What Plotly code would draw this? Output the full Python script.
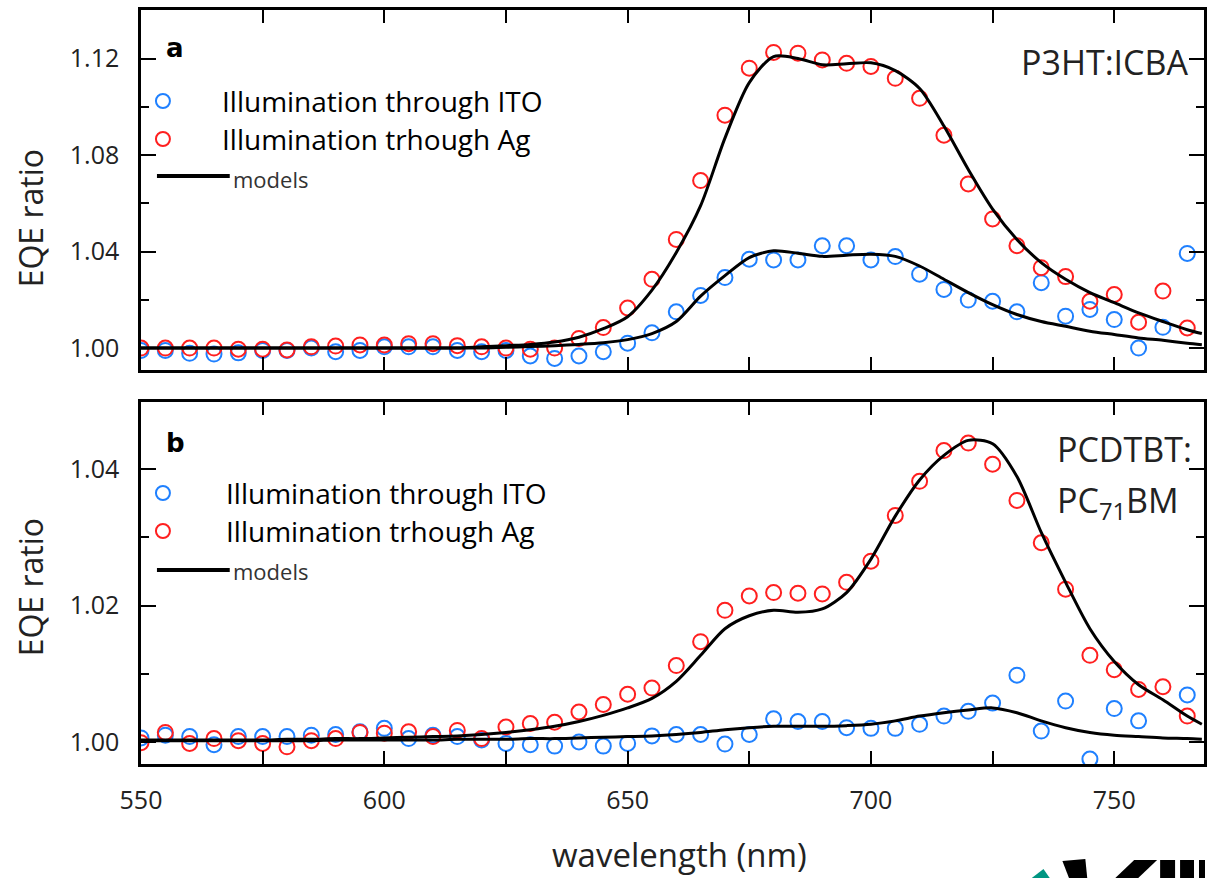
import plotly.graph_objects as go

# ---------------- data ----------------
wl = [550, 555, 560, 565, 570, 575, 580, 585, 590, 595,
      600, 605, 610, 615, 620, 625, 630, 635, 640, 645,
      650, 655, 660, 665, 670, 675, 680, 685, 690, 695,
      700, 705, 710, 715, 720, 725, 730, 735, 740, 745,
      750, 755, 760, 765]

# panel a: P3HT:ICBA
a_ito = [0.999, 0.999, 0.9978, 0.9975, 0.998, 0.999, 0.999, 1.000, 0.9985, 0.999,
         1.0005, 1.0005, 1.0005, 0.999, 0.9985, 0.999, 0.9967, 0.9957, 0.9967, 0.9985,
         1.002, 1.0063, 1.015, 1.0218, 1.0292, 1.0368, 1.0365, 1.0365, 1.0424, 1.0424,
         1.0365, 1.0379, 1.0306, 1.0243, 1.0199, 1.0194, 1.015, 1.0271, 1.0132, 1.016,
         1.0118, 1.000, 1.0086, 1.0392]
a_ag = [1.000, 1.000, 1.000, 1.000, 0.9995, 0.9995, 0.9992, 1.0005, 1.0008, 1.0013,
        1.0013, 1.0018, 1.0018, 1.001, 1.0005, 1.000, 0.9995, 1.000, 1.004, 1.0085,
        1.0166, 1.0285, 1.045, 1.0694, 1.0965, 1.116, 1.1225, 1.1222, 1.1194, 1.118,
        1.1167, 1.1118, 1.1035, 1.0882, 1.068, 1.0535, 1.0424, 1.0333, 1.0296, 1.0194,
        1.0222, 1.0107, 1.0236, 1.0083]

model_wl = wl + [768]
a_model_ag = [1.000, 1.000, 1.000, 1.000, 1.000, 1.000, 1.000, 1.000, 1.000, 1.000,
              1.000, 1.000, 1.000, 1.000, 1.0005, 1.001, 1.0015, 1.0025, 1.0045, 1.008,
              1.013, 1.024, 1.0396, 1.059, 1.087, 1.110, 1.1208, 1.1200, 1.1174, 1.1178,
              1.1182, 1.115, 1.1076, 1.092, 1.074, 1.0576, 1.045, 1.0354, 1.0285, 1.023,
              1.0188, 1.0146, 1.011, 1.0076, 1.006]
a_model_ito = [1.000, 1.000, 1.000, 1.000, 1.000, 1.000, 1.000, 1.000, 1.000, 1.000,
               1.000, 1.000, 1.000, 1.000, 1.000, 1.0003, 1.0006, 1.001, 1.0015, 1.0022,
               1.0035, 1.006, 1.011, 1.0215, 1.030, 1.0375, 1.0403, 1.0393, 1.038, 1.0385,
               1.0389, 1.038, 1.034, 1.0285, 1.023, 1.018, 1.0139, 1.011, 1.009, 1.007,
               1.0056, 1.0042, 1.0032, 1.002, 1.0014]

# panel b: PCDTBT:PC71BM
b_ito = [1.0006, 1.001, 1.0008, 0.9996, 1.0008, 1.0008, 1.0008, 1.001, 1.0011, 1.0015,
         1.002, 1.0005, 1.001, 1.0008, 1.0003, 0.9998, 0.9996, 0.9994, 1.000, 0.9994,
         0.9998, 1.0009, 1.0011, 1.0011, 0.9997, 1.0011, 1.0034, 1.003, 1.003, 1.0021,
         1.002, 1.002, 1.0026, 1.0038, 1.0045, 1.0057, 1.0098, 1.0016, 1.006, 0.9975,
         1.0049, 1.0031, None, 1.0069]
b_ag = [0.9999, 1.0014, 0.9998, 1.0005, 1.0002, 0.9998, 0.9993, 1.0002, 1.0005, 1.0014,
        1.0013, 1.0015, 1.0008, 1.0017, 1.0005, 1.0022, 1.0027, 1.0029, 1.0044, 1.0055,
        1.007, 1.0079, 1.0112, 1.0147, 1.0193, 1.0214, 1.0219, 1.0218, 1.0217, 1.0234,
        1.0265, 1.0332, 1.0382, 1.0427, 1.0438, 1.0407, 1.0354, 1.0292, 1.0224, 1.0127,
        1.0106, 1.0077, 1.0081, 1.0038]
b_model_ag = [1.0003, 1.0003, 1.0003, 1.0003, 1.0003, 1.0003, 1.0004, 1.0004, 1.0005, 1.0005,
              1.0006, 1.0007, 1.0008, 1.0009, 1.0011, 1.0014, 1.0018, 1.0023, 1.003, 1.0039,
              1.005, 1.0064, 1.0089, 1.0127, 1.0166, 1.0185, 1.0193, 1.019, 1.0195, 1.0219,
              1.0268, 1.0331, 1.0384, 1.042, 1.0442, 1.0437, 1.0389, 1.0307, 1.0234, 1.0166,
              1.0118, 1.0084, 1.0062, 1.0038, 1.0026]
b_model_ito = [1.0002, 1.0002, 1.0002, 1.0002, 1.0002, 1.0002, 1.0002, 1.0002, 1.0003, 1.0003,
               1.0003, 1.0003, 1.0003, 1.0004, 1.0004, 1.0004, 1.0005, 1.0005, 1.0006, 1.0007,
               1.0008, 1.0009, 1.0011, 1.0014, 1.0018, 1.0021, 1.0023, 1.0023, 1.0023, 1.0024,
               1.0026, 1.0031, 1.0038, 1.0043, 1.0047, 1.005, 1.0043, 1.0031, 1.0021, 1.0014,
               1.001, 1.0008, 1.0006, 1.0005, 1.0004]

x_ticks = [550, 600, 650, 700, 750]
a_yticks = [1.00, 1.04, 1.08, 1.12]
b_yticks = [1.00, 1.02, 1.04]
legend_labels = ["Illumination through ITO", "Illumination trhough Ag", "models"]
panel_labels = ["a", "b"]
material_a = "P3HT:ICBA"
material_b = ["PCDTBT:", "PC<sub>71</sub>BM"]

# ---------------- styling ----------------
BLUE = "#1f80ff"
RED = "#ff1f1f"
FONT = "Open Sans"
W, H = 1207, 878
ML, MR, MT, MB = 141, 0, 10, 114
PW = W - ML - MR
PH = H - MT - MB

fig = go.Figure()

def marker_trace(x, y, color, xa, ya):
    return go.Scatter(x=x, y=y, mode="markers", xaxis=xa, yaxis=ya,
                      marker=dict(symbol="circle-open", size=15, color=color,
                                  line=dict(width=2, color=color)),
                      showlegend=False, cliponaxis=True)

def model_trace(x, y, xa, ya):
    return go.Scatter(x=x, y=y, mode="lines", xaxis=xa, yaxis=ya,
                      line=dict(color="black", width=3, shape="spline", smoothing=0.8),
                      showlegend=False)

fig.add_trace(marker_trace(wl, a_ito, BLUE, "x", "y"))
fig.add_trace(marker_trace(wl, a_ag, RED, "x", "y"))
fig.add_trace(model_trace(model_wl, a_model_ag, "x", "y"))
fig.add_trace(model_trace(model_wl, a_model_ito, "x", "y"))
fig.add_trace(marker_trace(wl, b_ito, BLUE, "x2", "y2"))
fig.add_trace(marker_trace(wl, b_ag, RED, "x2", "y2"))
fig.add_trace(model_trace(model_wl, b_model_ag, "x2", "y2"))
fig.add_trace(model_trace(model_wl, b_model_ito, "x2", "y2"))

def dom_y(p_top, p_bot):
    return [(H - MB - p_bot) / PH, (H - MB - p_top) / PH]

top_px, top_bot = 10, 370
bot_px, bot_bot = 402, 764

axis_common = dict(showline=True, linecolor="black", linewidth=2.5, mirror="ticks",
                   ticks="inside", tickcolor="black", tickwidth=2, showgrid=False,
                   zeroline=False, tickfont=dict(family=FONT, size=25, color="#222"))

xrange = [550, 550 + PW / 4.88]
fig.update_layout(
    width=W, height=H, margin=dict(l=ML, r=MR, t=MT, b=MB),
    paper_bgcolor="white", plot_bgcolor="white", showlegend=False,
    xaxis=dict(domain=[0, 1], range=xrange, anchor="y", tickvals=x_ticks,
               showticklabels=False, ticklen=13,
               minor=dict(dtick=25, tick0=550, ticklen=13, ticks="inside", tickcolor="black", tickwidth=2),
               **axis_common),
    yaxis=dict(domain=dom_y(top_px, top_bot), range=[0.9909, 1.1401], anchor="x",
               tickvals=a_yticks, ticktext=[f"{v:.2f}" for v in a_yticks], ticklen=15,
               ticklabelstandoff=14,
               minor=dict(dtick=0.02, tick0=1.0, ticklen=8, ticks="inside", tickcolor="black", tickwidth=2),
               **axis_common),
    xaxis2=dict(domain=[0, 1], range=xrange, anchor="y2", tickvals=x_ticks,
                ticktext=[str(v) for v in x_ticks], ticklen=13, ticklabelstandoff=12,
                minor=dict(dtick=25, tick0=550, ticklen=13, ticks="inside", tickcolor="black", tickwidth=2),
                **axis_common),
    yaxis2=dict(domain=dom_y(bot_px, bot_bot), range=[0.99678, 1.04982], anchor="x2",
                tickvals=b_yticks, ticktext=[f"{v:.2f}" for v in b_yticks], ticklen=15,
                ticklabelstandoff=14,
                minor=dict(dtick=0.01, tick0=1.0, ticklen=8, ticks="inside", tickcolor="black", tickwidth=2),
                **axis_common),
)

def fx(px):
    return (px - ML) / PW

def fy_top(py):
    return (top_bot - py) / (top_bot - top_px)

def fy_bot(py):
    return (bot_bot - py) / (bot_bot - bot_px)

ann = []
shapes = []

def panel_decor(idx, xr, yr, fy, y_a, y_blue, y_red, y_line, y_models, x_text):
    ann.append(dict(xref=xr + " domain", yref=yr + " domain", x=fx(164), y=fy(y_a),
                    text="<b>" + panel_labels[idx] + "</b>", showarrow=False,
                    font=dict(family="DejaVu Sans", size=26, color="black")))
    for y_c, col, lab in [(y_blue, BLUE, legend_labels[0]), (y_red, RED, legend_labels[1])]:
        shapes.append(dict(type="circle", xref=xr + " domain", yref=yr + " domain",
                           xsizemode="pixel", ysizemode="pixel", xanchor=fx(163), yanchor=fy(y_c),
                           x0=-7, x1=7, y0=-7, y1=7, line=dict(color=col, width=2)))
        ann.append(dict(xref=xr + " domain", yref=yr + " domain", x=fx(x_text), y=fy(y_c),
                        xanchor="left", yanchor="middle", text=lab, showarrow=False,
                        font=dict(family=FONT, size=28, color="black")))
    shapes.append(dict(type="line", xref=xr + " domain", yref=yr + " domain",
                       x0=fx(157), x1=fx(230), y0=fy(y_line), y1=fy(y_line),
                       line=dict(color="black", width=4)))
    ann.append(dict(xref=xr + " domain", yref=yr + " domain", x=fx(231), y=fy(y_models),
                    xanchor="left", yanchor="middle", text=legend_labels[2], showarrow=False,
                    font=dict(family=FONT, size=22, color="#333")))

panel_decor(0, "x", "y", fy_top, 31, 101, 139, 176, 179, 220)
panel_decor(1, "x2", "y2", fy_bot, 426, 493, 531, 570, 571, 224)

ann.append(dict(xref="x domain", yref="y domain", x=fx(1193), y=fy_top(62), xanchor="right",
                yanchor="middle", text=material_a, showarrow=False,
                font=dict(family=FONT, size=34, color="#222")))
ann.append(dict(xref="x2 domain", yref="y2 domain", x=fx(1058), y=fy_bot(449), xanchor="left",
                yanchor="middle", text=material_b[0], showarrow=False,
                font=dict(family=FONT, size=34, color="#222")))
ann.append(dict(xref="x2 domain", yref="y2 domain", x=fx(1058), y=fy_bot(502), xanchor="left",
                yanchor="middle", text=material_b[1], showarrow=False,
                font=dict(family=FONT, size=34, color="#222")))

def px_paper(px, py):
    return (px - ML) / PW, (H - MB - py) / PH

# axis titles
for cy in [218, 587]:
    xp, yp = px_paper(30, cy)
    ann.append(dict(xref="paper", yref="paper", x=xp, y=yp, textangle=-90,
                    text="EQE ratio", showarrow=False, xanchor="center", yanchor="middle",
                    font=dict(family=FONT, size=32, color="#222")))
xp, yp = px_paper(681, 855)
ann.append(dict(xref="paper", yref="paper", x=xp, y=yp, text="wavelength (nm)",
                showarrow=False, xanchor="center", yanchor="middle",
                font=dict(family=FONT, size=33, color="#222")))

# partial logo in bottom right corner (decoration)
def poly(pts, color):
    d = ""
    for i, (px, py) in enumerate(pts):
        xp, yp = px_paper(px, py)
        d += ("M" if i == 0 else "L") + f"{xp},{yp} "
    d += "Z"
    shapes.append(dict(type="path", xref="paper", yref="paper", path=d,
                       fillcolor=color, line=dict(width=0), layer="above"))

poly([(1033, 879), (1046, 869), (1053, 879)], "#009682")
poly([(1065, 861), (1088, 859), (1090, 879), (1072, 879)], "black")
poly([(1137, 860), (1160, 860), (1140, 879), (1117, 879)], "black")
poly([(1163, 860), (1178, 860), (1178, 879), (1163, 879)], "black")
poly([(1183, 860), (1197, 860), (1197, 879), (1183, 879)], "black")
poly([(1202, 860), (1208, 860), (1208, 879), (1202, 879)], "black")

fig.update_layout(annotations=ann, shapes=shapes)
fig.write_html("out.html")
